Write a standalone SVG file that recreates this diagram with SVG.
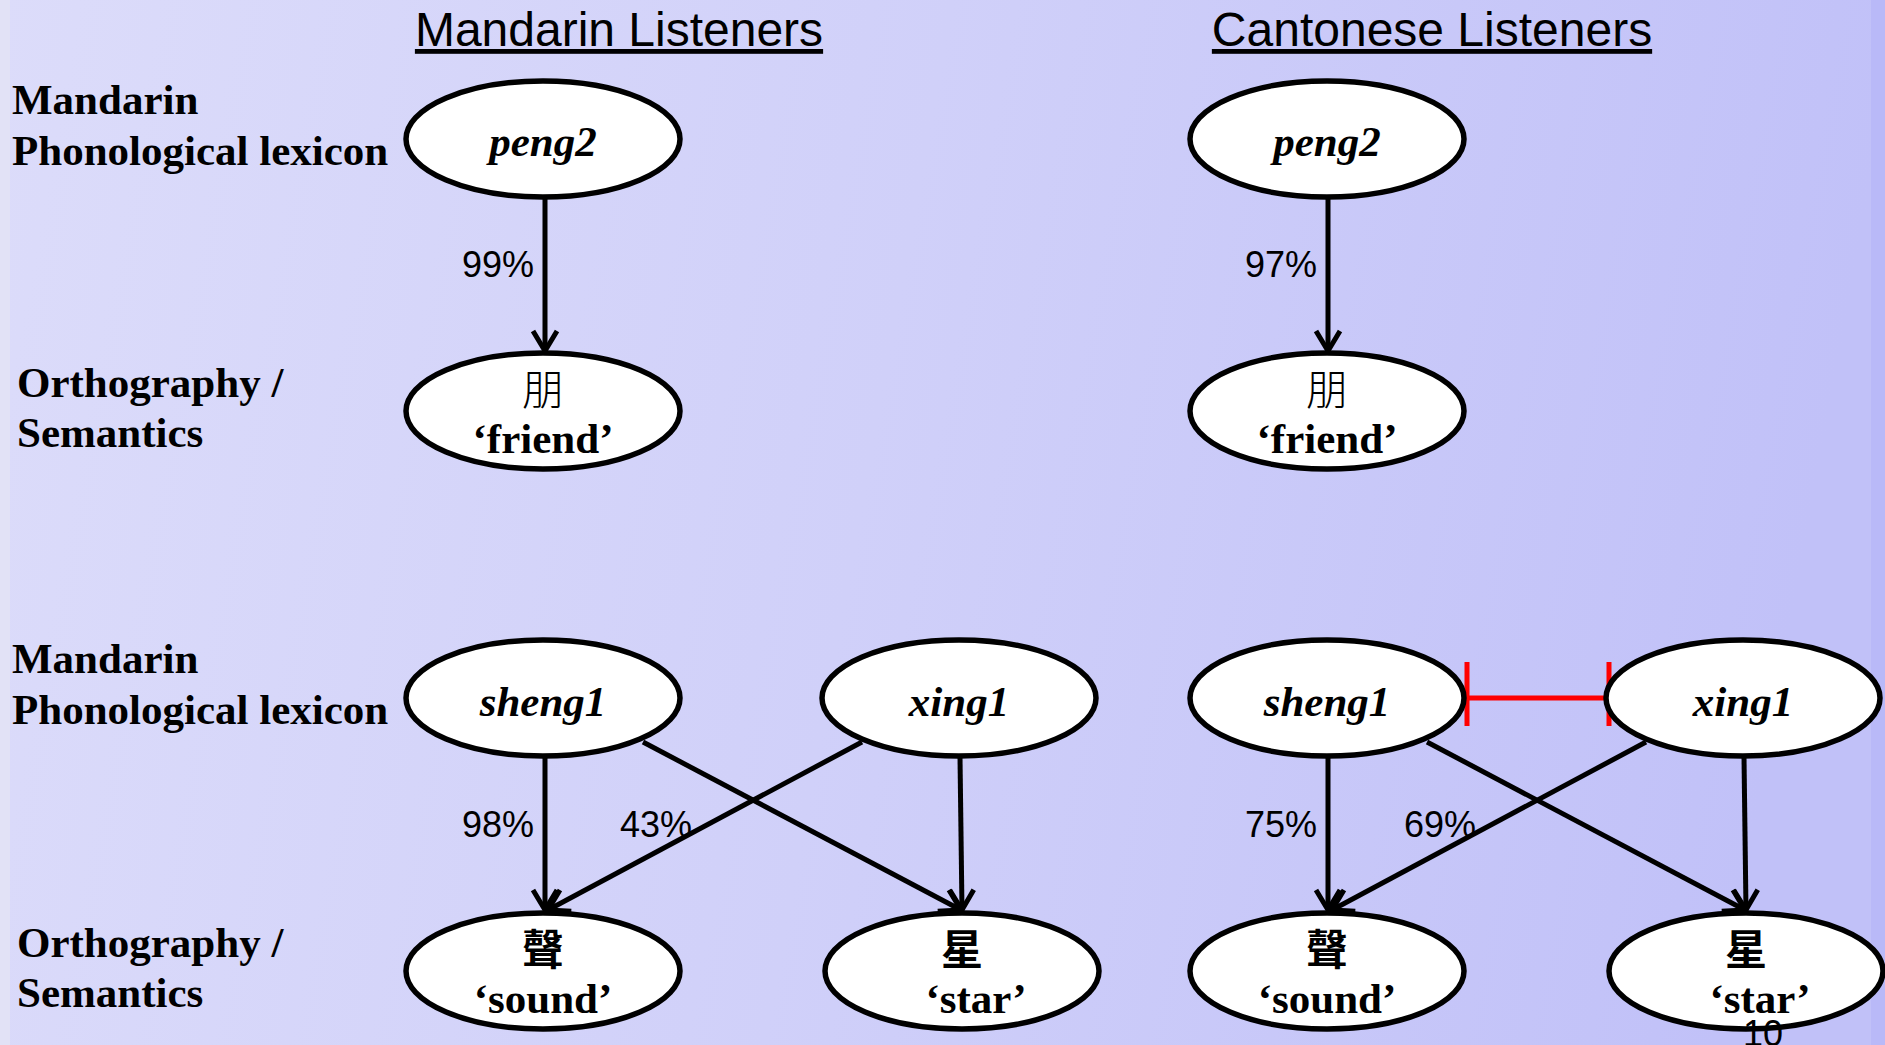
<svg xmlns="http://www.w3.org/2000/svg" width="1885" height="1045" viewBox="0 0 1885 1045">
<defs>
<linearGradient id="bg" x1="0" y1="0" x2="1" y2="0.1">
<stop offset="0" stop-color="#dcdcfa"/>
<stop offset="0.5" stop-color="#d0d0f9"/>
<stop offset="1" stop-color="#c1c1f8"/>
</linearGradient>
<marker id="arr" viewBox="0 0 30 30" refX="22" refY="13" markerWidth="30" markerHeight="30" markerUnits="userSpaceOnUse" orient="auto" overflow="visible">
<path d="M2,1 L22,13 L2,25" fill="none" stroke="#000" stroke-width="5" stroke-linejoin="miter"/>
</marker>
<style>
.node ellipse{fill:#fff;stroke:#000;stroke-width:5.5}
.pin{font-family:"Liberation Serif","Times New Roman",serif;font-style:italic;font-weight:bold;font-size:43px;text-anchor:middle;fill:#000}
.gl{font-family:"Liberation Serif","Times New Roman",serif;font-weight:bold;font-size:43px;text-anchor:middle;fill:#000}
.cjk{font-family:"Noto Sans CJK TC","Noto Sans CJK SC",sans-serif;font-size:42px;text-anchor:middle;fill:#000}
.cjkl{font-weight:300}
.cjkb{font-weight:bold}
.lab{font-family:"Liberation Serif","Times New Roman",serif;font-weight:bold;font-size:43px;fill:#000}
.ttl{font-family:"Liberation Sans",Arial,sans-serif;font-size:48px;text-anchor:middle;fill:#000;text-decoration:underline}
.pct{font-family:"Liberation Sans",Arial,sans-serif;font-size:36px;fill:#000}
.edge line{stroke:#000;stroke-width:5;marker-end:url(#arr)}
.inh line{stroke:#ff0000;stroke-width:5}
</style>
</defs>
<rect x="0" y="0" width="1885" height="1045" fill="url(#bg)"/>
<rect x="0" y="0" width="10" height="1045" fill="#e2e2f6"/>
<rect x="1871" y="0" width="14" height="1045" fill="#b9b9f8"/>

<g id="titles">
<text class="ttl" x="619" y="46">Mandarin Listeners</text>
<text class="ttl" x="1432" y="46">Cantonese Listeners</text>
</g>

<g id="row-labels">
<text class="lab" x="12" y="114">Mandarin</text>
<text class="lab" x="12" y="165">Phonological lexicon</text>
<text class="lab" x="17" y="397">Orthography /</text>
<text class="lab" x="17" y="447">Semantics</text>
<text class="lab" x="12" y="673">Mandarin</text>
<text class="lab" x="12" y="724">Phonological lexicon</text>
<text class="lab" x="17" y="957">Orthography /</text>
<text class="lab" x="17" y="1007">Semantics</text>
</g>

<g id="connectors">
<g class="edge">
<line x1="545" y1="198" x2="545" y2="351"/>
<line x1="1328" y1="198" x2="1328" y2="351"/>
<line x1="545" y1="757" x2="545" y2="910"/>
<line x1="643" y1="742" x2="961" y2="910"/>
<line x1="862" y1="742" x2="548" y2="910"/>
<line x1="960" y1="757" x2="962" y2="910"/>
<line x1="1328" y1="757" x2="1328" y2="910"/>
<line x1="1427" y1="742" x2="1745" y2="910"/>
<line x1="1646" y1="742" x2="1332" y2="910"/>
<line x1="1744" y1="757" x2="1746" y2="910"/>
</g>
<g class="inh">
<line x1="1466" y1="698" x2="1609" y2="698"/>
<line x1="1467" y1="662" x2="1467" y2="726"/>
<line x1="1609" y1="662" x2="1609" y2="726"/>
</g>
<g id="edge-labels">
<text class="pct" x="462" y="277">99%</text>
<text class="pct" x="1245" y="277">97%</text>
<text class="pct" x="462" y="837">98%</text>
<text class="pct" x="620" y="837">43%</text>
<text class="pct" x="1245" y="837">75%</text>
<text class="pct" x="1404" y="837">69%</text>
</g>
</g>

<g id="m-peng2" class="node"><ellipse cx="543" cy="139" rx="137" ry="58"/><text class="pin" x="543" y="156">peng2</text></g>
<g id="m-peng" class="node"><ellipse cx="543" cy="411" rx="137" ry="58"/><text class="cjk cjkl" x="543" y="405">朋</text><text class="gl" x="543" y="453">‘friend’</text></g>
<g id="c-peng2" class="node"><ellipse cx="1327" cy="139" rx="137" ry="58"/><text class="pin" x="1327" y="156">peng2</text></g>
<g id="c-peng" class="node"><ellipse cx="1327" cy="411" rx="137" ry="58"/><text class="cjk cjkl" x="1327" y="405">朋</text><text class="gl" x="1327" y="453">‘friend’</text></g>

<g id="m-sheng1" class="node"><ellipse cx="543" cy="698" rx="137" ry="58"/><text class="pin" x="543" y="716">sheng1</text></g>
<g id="m-xing1" class="node"><ellipse cx="959" cy="698" rx="137" ry="58"/><text class="pin" x="959" y="716">xing1</text></g>
<g id="m-sheng" class="node"><ellipse cx="543" cy="971" rx="137" ry="58"/><text class="cjk cjkb" x="543" y="965">聲</text><text class="gl" x="543" y="1013">‘sound’</text></g>
<g id="m-xing" class="node"><ellipse cx="962" cy="971" rx="137" ry="58"/><text class="cjk cjkb" x="962" y="965">星</text><text class="gl" x="976" y="1013">‘star’</text></g>

<g id="c-sheng1" class="node"><ellipse cx="1327" cy="698" rx="137" ry="58"/><text class="pin" x="1327" y="716">sheng1</text></g>
<g id="c-xing1" class="node"><ellipse cx="1743" cy="698" rx="137" ry="58"/><text class="pin" x="1743" y="716">xing1</text></g>
<g id="c-sheng" class="node"><ellipse cx="1327" cy="971" rx="137" ry="58"/><text class="cjk cjkb" x="1327" y="965">聲</text><text class="gl" x="1327" y="1013">‘sound’</text></g>
<g id="c-xing" class="node"><ellipse cx="1746" cy="971" rx="137" ry="58"/><text class="cjk cjkb" x="1746" y="965">星</text><text class="gl" x="1760" y="1013">‘star’</text></g>

<text class="pct" x="1763" y="1046" text-anchor="middle">10</text>
</svg>
